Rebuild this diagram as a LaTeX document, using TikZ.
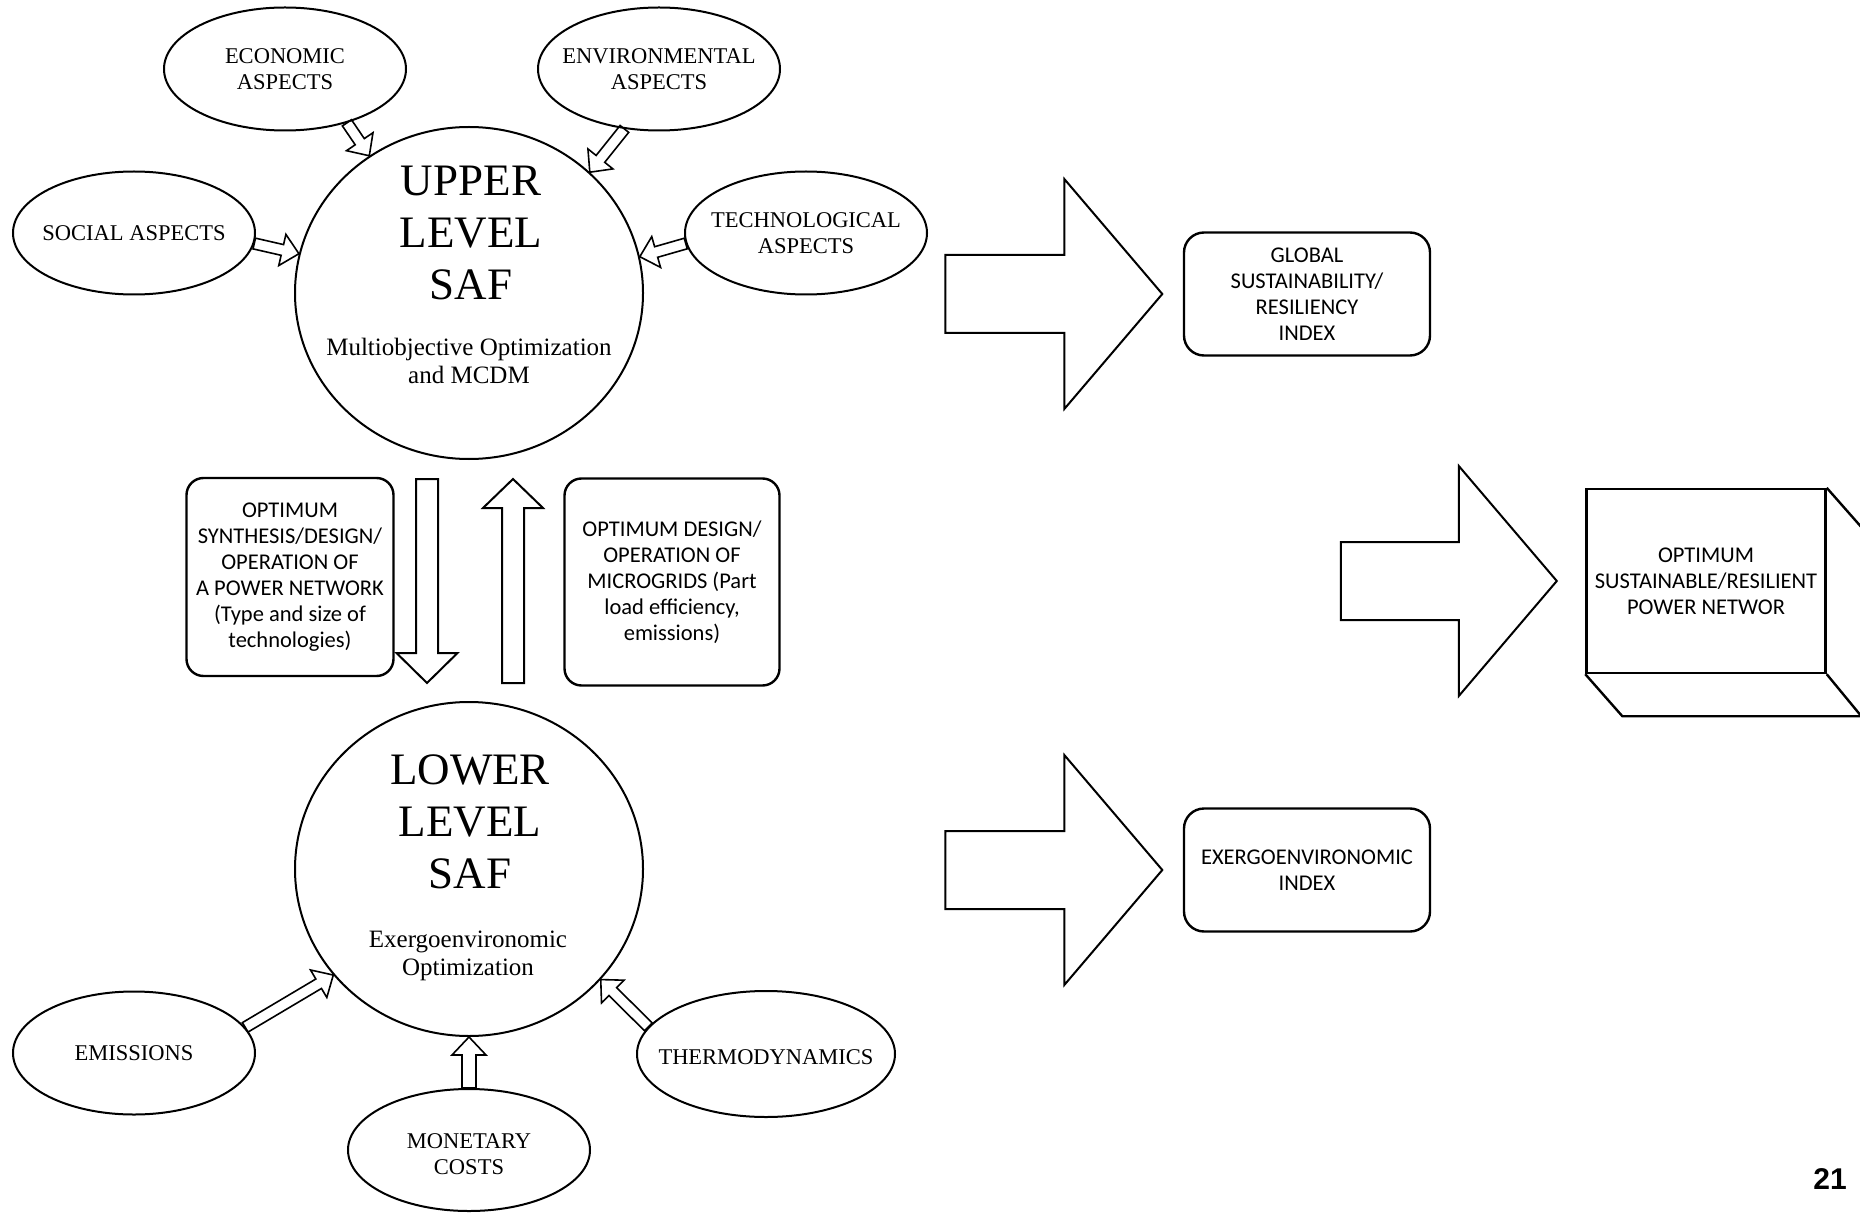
\documentclass[tikz,border=0pt]{standalone}
\usepackage{fontspec}
\setmainfont{Liberation Serif}
\newfontfamily\boxfont{Carlito}
\newfontfamily\pagefont{Liberation Sans}
\usepackage{tikz}
\usetikzlibrary{shapes.geometric}
\usetikzlibrary{calc}

\tikzset{
  aspect/.style={draw, ellipse, line width=2pt, minimum width=242pt, minimum height=123pt, inner sep=0pt},
  aspecttext/.style={align=center, font=\fontsize{22.5}{26}\selectfont},
  level/.style={draw, ellipse, line width=2pt, minimum width=348pt, minimum height=332pt, inner sep=0pt},
  leveltext/.style={align=center, font=\fontsize{45}{52}\selectfont},
  methodtext/.style={align=center, font=\fontsize{25}{28}\selectfont},
  infobox/.style={draw, rectangle, rounded corners=17pt, line width=2.4pt, inner sep=2pt, align=center, font=\boxfont\fontsize{22.5}{26}\selectfont},
  cubeface/.style={draw, rectangle, line width=2.4pt, inner sep=2pt, align=center, minimum width=239pt, minimum height=184pt, font=\boxfont\fontsize{22.5}{26}\selectfont},
  cubeline/.style={line width=2.4pt, line join=round},
  hollow/.style={draw, line width=1.6pt},
  blockarrow/.style={draw, line width=2pt},
}

\newcommand{\hollowarrow}[6][hollow]{%
  \draw[#1] ($(#2)!#4!-90:(#3)$) -- ($(#3)!#6!(#2)!#4!90:(#2)$) -- ($(#3)!#6!(#2)!#5!90:(#2)$)
    -- (#3) -- ($(#3)!#6!(#2)!#5!-90:(#2)$) -- ($(#3)!#6!(#2)!#4!-90:(#2)$) -- ($(#2)!#4!90:(#3)$) -- cycle;}

\begin{document}
\begin{tikzpicture}[x=1pt, y=-1pt]
    \useasboundingbox (0,0) rectangle (1860,1214);

    \node[level] (upper) at (469,293) {};
    \node[leveltext] at (471,233) {UPPER\\LEVEL\\SAF};
    \node[methodtext] at (469,361) {Multiobjective Optimization\\and MCDM};

    \node[aspect] (econ) at (285,69) {};
    \node[aspecttext] at (econ) {ECONOMIC\\ASPECTS};
    \node[aspect] (env) at (659,69) {};
    \node[aspecttext] at (env) {ENVIRONMENTAL\\ASPECTS};
    \node[aspect] (social) at (134,233) {};
    \node[aspecttext] at (social) {SOCIAL ASPECTS};
    \node[aspect] (tech) at (806,233) {};
    \node[aspecttext] at (tech) {TECHNOLOGICAL\\ASPECTS};

    \hollowarrow{econ.-41}{upper.126}{5.5pt}{16pt}{17pt}
    \hollowarrow{env.-120}{upper.45}{5.5pt}{16pt}{17pt}
    \hollowarrow{social.-5}{upper.167}{5.5pt}{16pt}{17pt}
    \hollowarrow{tech.185}{upper.12}{5.5pt}{16pt}{17pt}

    \node[level, minimum height=334pt] (lower) at (469,869) {};
    \node[leveltext] at (470,822) {LOWER\\LEVEL\\SAF};
    \node[methodtext] at (468,956) {Exergoenvironomic\\Optimization};

    \node[aspect] (emis) at (134,1053) {};
    \node[aspecttext] at (emis) {EMISSIONS};
    \node[aspect, minimum height=122pt] (money) at (469,1150) {};
    \node[aspecttext] at ([yshift=-4pt]money.center) {MONETARY\\COSTS};
    \node[aspect, minimum width=258pt, minimum height=126pt] (thermo) at (766,1054) {};
    \node[aspecttext] at ([yshift=-3pt]thermo.center) {THERMODYNAMICS};

    \hollowarrow{emis.13}{lower.-142}{5.5pt}{16pt}{17pt}
    \hollowarrow{money.north}{lower.south}{7pt}{17pt}{18pt}
    \hollowarrow{thermo.167}{lower.-40}{5.5pt}{16pt}{17pt}

    \node[infobox, minimum width=207pt, minimum height=198pt] (synth) at (290,577) {OPTIMUM\\SYNTHESIS/DESIGN/\\OPERATION OF\\A POWER NETWORK\\(Type and size of\\technologies)};
    \node[infobox, minimum width=215pt, minimum height=207pt] (micro) at (672,582) {OPTIMUM DESIGN/\\OPERATION OF\\MICROGRIDS (Part\\load efficiency,\\emissions)};

    \coordinate (downtop) at ([shift={(-42,19)}]upper.south);
    \coordinate (downtip) at ([shift={(-42,-18)}]lower.north);
    \coordinate (uptail) at ([shift={(44,-18)}]lower.north);
    \coordinate (uptip) at ([shift={(44,19)}]upper.south);
    \hollowarrow[blockarrow]{downtop}{downtip}{11pt}{30.5pt}{30pt}
    \hollowarrow[blockarrow]{uptail}{uptip}{11pt}{30pt}{29pt}

    \node[infobox, rounded corners=20pt, minimum width=246pt, minimum height=123pt] (glob) at (1307,294) {GLOBAL\\SUSTAINABILITY/\\RESILIENCY\\INDEX};
    \node[infobox, rounded corners=20pt, minimum width=246pt, minimum height=123pt] (exidx) at (1307,870) {EXERGOENVIRONOMIC\\INDEX};
    \node[cubeface] (net) at (1706,581) {OPTIMUM\\SUSTAINABLE/RESILIENT\\POWER NETWOR};
    \draw[cubeline] (net.south west) -- ++(37,42) -- ++(239,0) -- (net.south east);
    \draw[cubeline] (net.north east) -- ++(37,42) -- ++(0,184);

    \coordinate (globtail) at ([xshift=-237.5pt]glob.west);
    \coordinate (globtip) at ([xshift=-20.5pt]glob.west);
    \coordinate (nettail) at ([xshift=-244.5pt]net.west);
    \coordinate (nettip) at ([xshift=-28.5pt]net.west);
    \coordinate (extail) at ([xshift=-237.5pt]exidx.west);
    \coordinate (extip) at ([xshift=-20.5pt]exidx.west);
    \hollowarrow[blockarrow]{globtail}{globtip}{39pt}{115pt}{98pt}
    \hollowarrow[blockarrow]{nettail}{nettip}{39pt}{115pt}{98pt}
    \hollowarrow[blockarrow]{extail}{extip}{39pt}{115pt}{98pt}

    \node[font=\pagefont\bfseries\fontsize{30}{36}\selectfont] (pagenum) at (1830,1179) {21};
\end{tikzpicture}
\end{document}
